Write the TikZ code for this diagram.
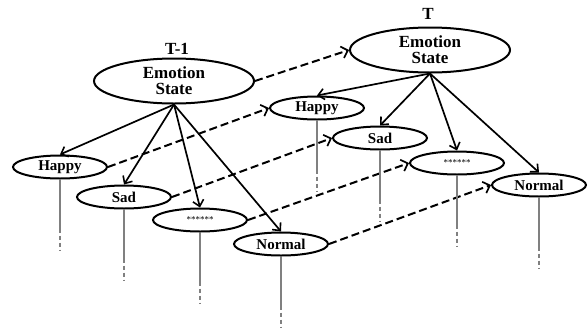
\documentclass[tikz,border=0pt]{standalone}
\usepackage{fontspec}
\setmainfont{Liberation Serif}
\usetikzlibrary{shapes.geometric,arrows.meta}
\begin{document}
\begin{tikzpicture}[x=1pt,y=-1pt,
  bigstate/.style={ellipse,draw,line width=2pt,minimum width=160pt,minimum height=45pt,inner sep=0pt,
    font=\fontsize{17}{16}\selectfont\bfseries,align=center},
  smallstate/.style={ellipse,draw,line width=2pt,minimum width=94pt,minimum height=23pt,inner sep=0pt,
    font=\fontsize{15}{15}\selectfont\bfseries},
  stars/.style={smallstate,font=\fontsize{9}{9}\selectfont},
  timelabel/.style={font=\fontsize{17}{17}\selectfont\bfseries},
  tree/.style={line width=1.7pt,-{Straight Barb[length=6pt,width=11pt,line width=1.6pt]}},
  trans/.style={line width=2pt,dash pattern=on 8pt off 4pt,-{Straight Barb[length=6pt,width=12pt,line width=1.7pt]}},
  dropsolid/.style={line width=1.8pt,color=gray},
  dropdash/.style={line width=1.8pt,color=gray,dash pattern=on 4.5pt off 2.5pt}]
\useasboundingbox (0,0) rectangle (588,327);
% time slice T-1
\node[bigstate] (e1) at (174,81) {Emotion\\State};
\node[timelabel] (t1) at (177,49) {T-1};
\node[smallstate] (h1) at (60,167) {Happy};
\node[smallstate] (s1) at (124,197) {Sad};
\node[stars] (a1) at (200,220) {******};
\node[smallstate] (n1) at (281,244) {Normal};
% time slice T
\node[bigstate] (e2) at (430,50) {Emotion\\State};
\node[timelabel] (t2) at (428,14) {T};
\node[smallstate] (h2) at (317,108) {Happy};
\node[smallstate] (s2) at (380,138) {Sad};
\node[stars] (a2) at (457,163) {******};
\node[smallstate] (n2) at (539,185) {Normal};
% tree arrows
\foreach \p/\c in {e1/h1,e1/s1,e1/a1,e1/n1,e2/h2,e2/s2,e2/a2,e2/n2}
  \draw[tree] (\p.south) -- (\c.north);
% transitions
\foreach \a/\b in {e1/e2,h1/h2,s1/s2,a1/a2,n1/n2}
  \draw[trans] (\a.east) -- (\b.west);
% drop lines
\foreach \n in {h1,s1,a1,n1,h2,s2,a2,n2}{
  \draw[dropsolid] (\n.south) -- ++(0,49) coordinate (\n m);
  \draw[dropdash] (\n m) -- ++(0,22);
}
\end{tikzpicture}
\end{document}
